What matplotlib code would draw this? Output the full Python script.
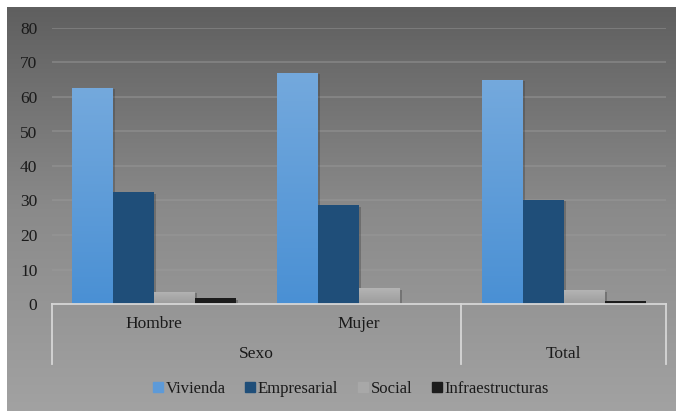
import numpy as np
import matplotlib
matplotlib.use("Agg")
import matplotlib.pyplot as plt
from matplotlib.colors import LinearSegmentedColormap
from matplotlib.patches import Rectangle
import matplotlib.patheffects as pe

plt.rcParams['font.family'] = ['Liberation Serif', 'DejaVu Serif']

categories = ["Hombre", "Mujer", "Total"]
series = ["Vivienda", "Empresarial", "Social", "Infraestructuras"]
vivienda = [62.6, 67.0, 64.9]
empresarial = [32.4, 28.6, 30.2]
social = [3.5, 4.5, 4.0]
infraestructuras = [1.6, 0.0, 0.8]
yticks = [0, 10, 20, 30, 40, 50, 60, 70, 80]

values = [vivienda, empresarial, social, infraestructuras]
# (top colour, bottom colour) for each series
colors = [("#74a9dd", "#4a90d4"),
          ("#1f4e79", "#1f4e79"),
          ("#b4b4b4", "#9c9c9c"),
          ("#1c1c1c", "#1c1c1c")]

W, H = 676, 411
fig = plt.figure(figsize=(W / 100, H / 100), dpi=100)

# gradient background panel
bg = fig.add_axes([0, 0, 1, 1])
bg.set_xlim(0, W)
bg.set_ylim(H, 0)
bg.axis("off")
grad = np.linspace(0, 1, 256).reshape(-1, 1)
bg_cmap = LinearSegmentedColormap.from_list("bg", ["#5f5f5f", "#8a8a8a", "#a2a2a2"])
bg.imshow(grad, cmap=bg_cmap, extent=[7, W, H, 8], aspect="auto", zorder=0)

# plotting axes: x from 52 to 666 px, y from 304 (0) to 28 (80)
ax = fig.add_axes([52 / W, 1 - 304 / H, (666 - 52) / W, (304 - 28) / H])
ax.patch.set_alpha(0)
for s in ax.spines.values():
    s.set_visible(False)

ax.set_yticks(yticks)
ax.set_yticklabels([str(t) for t in yticks], fontsize=12.5, color="#1a1a1a")
ax.tick_params(axis="y", length=0, pad=10.5)
ax.set_xticks([])
ax.yaxis.grid(True, color="#9a9a9a", linewidth=1.3, alpha=0.5)
ax.set_axisbelow(True)

bw = 0.2
centers = np.arange(len(categories)) + 0.5
for i, (vals, (ctop, cbot)) in enumerate(zip(values, colors)):
    xs = centers - 2 * bw + i * bw + bw / 2
    bars = ax.bar(xs, vals, width=bw, color=cbot, linewidth=0, zorder=3,
                  path_effects=[pe.SimplePatchShadow(offset=(1.5, -1.0), shadow_rgbFace="#3a3a3a", alpha=0.35),
                                pe.Normal()])
    if ctop != cbot:
        cm = LinearSegmentedColormap.from_list("s%d" % i, [ctop, cbot])
        for b in bars:
            h = b.get_height()
            if h <= 0:
                continue
            x0 = b.get_x()
            im = ax.imshow(np.linspace(0, 1, 128).reshape(-1, 1), cmap=cm,
                           extent=[x0, x0 + bw, 0, h], aspect="auto", zorder=4,
                           origin="upper")
            im.set_clip_path(b)

ax.set_xlim(0, 3)
ax.set_ylim(0, 80)

# category axis (two levels)
lc = "#d6d6d6"
ax.plot([0, 3], [0, 0], color=lc, lw=1.3, clip_on=False, zorder=5)
ymin_level = -60 / 3.45
for xv in [0, 2, 3]:
    ax.plot([xv, xv], [0, ymin_level], color=lc, lw=1.3, clip_on=False, zorder=5)

lab_y1 = -20 / 3.45
lab_y2 = -50 / 3.45
for c, name in zip(centers[:2], categories[:2]):
    ax.text(c, lab_y1, name, ha="center", va="center", fontsize=12.5, color="#1a1a1a")
ax.text(1.0, lab_y2, "Sexo", ha="center", va="center", fontsize=12.5, color="#1a1a1a")
ax.text(centers[2], lab_y2, categories[2], ha="center", va="center", fontsize=12.5, color="#1a1a1a")

handles = [Rectangle((0, 0), 1, 1, color="#5d9ad8"),
           Rectangle((0, 0), 1, 1, color="#1f4e79"),
           Rectangle((0, 0), 1, 1, color="#a8a8a8"),
           Rectangle((0, 0), 1, 1, color="#1c1c1c")]
leg = fig.legend(handles, series, loc="center", bbox_to_anchor=(351 / W, 1 - 389 / H),
                 ncol=4, frameon=False, fontsize=12, handlelength=0.6, handleheight=0.6,
                 handletextpad=0.15, columnspacing=1.2, labelcolor="#1a1a1a")

fig.savefig("out.png", dpi=100)
